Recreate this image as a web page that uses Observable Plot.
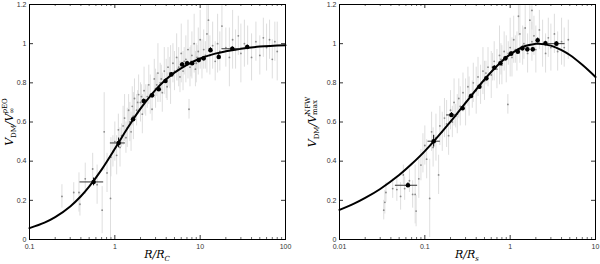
<!DOCTYPE html>
<html><head><meta charset="utf-8">
<script src="https://cdn.jsdelivr.net/npm/d3@7"></script>
<script src="https://cdn.jsdelivr.net/npm/@observablehq/plot@0.6"></script>
<style>
body{margin:0;width:600px;height:264px;position:relative;background:#fff;overflow:hidden}
.panel{position:absolute;top:0}
.lab{position:absolute;font-family:"DejaVu Serif","Liberation Serif",serif;font-style:italic;font-size:11px;white-space:nowrap;color:#000;line-height:1}
.lab sub{font-size:7px;font-style:normal}
.ss{display:inline-flex;flex-direction:column;vertical-align:middle;font-size:7px;line-height:1.05;font-style:normal}
</style></head><body>
<script>
// ---- data ----
const yTicks = [0, 0.2, 0.4, 0.6, 0.8, 1, 1.2];
const leftXTicks = [0.1, 1, 10, 100];
const rightXTicks = [0.01, 0.1, 1, 10];

// model curves
const leftCurveX = [0.1,0.15,0.2,0.3,0.4,0.5,0.7,1,1.2,1.5,2,3,4,5,7,10,15,20,30,50,100];
const leftCurveY = [0.058,0.086,0.114,0.169,0.221,0.270,0.357,0.463,0.520,0.587,0.668,0.764,0.818,0.852,0.892,0.924,0.949,0.961,0.974,0.985,0.992];
const rightCurveX = [0.01,0.015,0.02,0.03,0.05,0.07,0.1,0.2,0.3,0.5,0.7,1,1.5,2,2.16,3,4,5,7,10];
const rightCurveY = [0.151,0.184,0.212,0.258,0.329,0.385,0.451,0.602,0.698,0.817,0.886,0.945,0.988,0.999,1.0,0.990,0.967,0.942,0.892,0.830];

// binned points: x, y, y error, x low, x high
const leftBinX  = [0.564,1.108,1.636,2.18,2.73,3.27,3.92,4.60,6.15,7.03,8.05,9.63,11.0,13.2,16.5,23.8,35.6];
const leftBinY  = [0.294,0.493,0.614,0.707,0.736,0.767,0.809,0.843,0.894,0.900,0.900,0.916,0.925,0.967,0.932,0.974,0.983];
const leftBinE  = [0.02,0.025,0.012,0.01,0.01,0.01,0.01,0.01,0.01,0.01,0.01,0.01,0.01,0.012,0.012,0.01,0.01];
const leftBinLo = [0.39,0.887,1.636,2.18,2.73,3.27,3.92,4.60,6.15,7.03,8.05,9.63,11.0,13.2,16.5,18,35.6];
const leftBinHi = [0.74,1.33,1.636,2.18,2.73,3.27,3.92,4.60,6.15,7.03,8.05,9.63,11.0,13.2,16.5,30,35.6];

const rightBinX  = [0.0634,0.127,0.205,0.277,0.348,0.436,0.526,0.653,0.769,0.879,1.026,1.23,1.39,1.59,1.84,2.10,2.59,3.48];
const rightBinY  = [0.277,0.502,0.636,0.670,0.733,0.780,0.823,0.877,0.900,0.925,0.949,0.959,0.976,0.971,0.971,1.017,1.002,1.000];
const rightBinE  = [0.012,0.03,0.012,0.01,0.01,0.01,0.01,0.01,0.01,0.01,0.01,0.01,0.01,0.01,0.01,0.012,0.01,0.01];
const rightBinLo = [0.0452,0.109,0.18,0.277,0.348,0.436,0.526,0.653,0.769,0.879,1.026,1.23,1.39,1.59,1.84,2.10,2.59,2.8];
const rightBinHi = [0.0823,0.152,0.23,0.277,0.348,0.436,0.526,0.653,0.769,0.879,1.026,1.23,1.39,1.59,1.84,2.10,2.59,4.4];

// individual measurements: [x, y, y error]
const leftScatter = [
[0.24,0.22,0.06],[0.33,0.24,0.05],[0.38,0.24,0.1],[0.39,0.18,0.06],[0.45,0.31,0.08],[0.55,0.36,0.08],
[0.62,0.28,0.1],[0.71,0.15,0.12],[0.75,0.55,0.2],[0.81,0.34,0.1],[0.89,0.21,0.2],[0.9,0.42,0.1],
[0.95,0.45,0.08],[1.0,0.5,0.1],[1.05,0.43,0.1],[1.1,0.56,0.08],[1.15,0.47,0.1],[1.2,0.53,0.06],
[1.25,0.58,0.1],[1.3,0.62,0.12],[1.4,0.57,0.1],[1.45,0.66,0.08],[1.5,0.60,0.1],[1.6,0.68,0.1],
[1.65,0.63,0.12],[1.7,0.72,0.1],[1.8,0.66,0.08],[1.9,0.74,0.1],[2.0,0.70,0.1],[2.1,0.64,0.1],
[2.2,0.76,0.12],[2.3,0.71,0.08],[2.5,0.79,0.1],[2.6,0.74,0.1],[2.73,0.665,0.06],[2.9,0.82,0.1],
[3.0,0.77,0.1],[3.2,0.85,0.15],[3.4,0.80,0.1],[3.6,0.75,0.1],[3.8,0.86,0.12],[4.0,0.82,0.1],
[4.2,0.88,0.1],[4.5,0.84,0.15],[4.8,0.90,0.1],[5.0,0.86,0.1],[5.3,0.93,0.12],[5.6,0.88,0.1],
[6.0,0.95,0.15],[6.3,0.86,0.1],[6.8,0.92,0.12],[7.2,0.97,0.15],[7.4,0.665,0.05],[7.6,0.88,0.1],
[8.0,0.94,0.12],[8.5,1.0,0.15],[9.0,0.90,0.1],[9.5,0.96,0.12],[10,1.02,0.15],[10.5,0.92,0.1],
[11,0.97,0.1],[12,1.05,0.2],[12.5,1.12,0.15],[13,0.94,0.1],[14,0.99,0.12],[15,0.91,0.1],
[16,1.0,0.15],[17,0.96,0.1],[18,1.09,0.12],[20,0.98,0.1],[22,0.93,0.15],[24,1.02,0.15],
[26,0.97,0.1],[28,1.04,0.1],[30,0.95,0.15],[33,1.0,0.12],[36,0.99,0.1],[40,0.93,0.12],
[45,1.01,0.1],[50,0.94,0.1],[55,1.03,0.1],[60,0.98,0.12],[65,1.02,0.1],[70,0.92,0.1],
[75,1.01,0.1],[80,0.96,0.15],[2.4,0.73,0.06],[3.1,0.79,0.06],[3.5,0.82,0.07],[4.4,0.85,0.08],
[5.5,0.87,0.06],[6.5,0.91,0.07],[7.8,0.91,0.08],[9.2,0.93,0.06],[11.5,0.94,0.07],[1.55,0.55,0.1],
[1.35,0.52,0.08],[1.85,0.70,0.06],[2.05,0.73,0.06],[4.1,0.78,0.07],[5.8,0.83,0.08],[8.8,0.87,0.09]
];
const rightScatter = [
[0.033,0.15,0.05],[0.034,0.19,0.06],[0.035,0.24,0.05],[0.042,0.26,0.05],[0.047,0.255,0.06],[0.052,0.22,0.07],
[0.056,0.33,0.05],[0.058,0.26,0.06],[0.066,0.30,0.06],[0.072,0.23,0.07],[0.077,0.23,0.15],[0.079,0.145,0.08],
[0.085,0.31,0.1],[0.09,0.38,0.08],[0.095,0.44,0.1],[0.1,0.48,0.1],[0.105,0.41,0.1],[0.114,0.21,0.2],
[0.12,0.55,0.1],[0.125,0.47,0.1],[0.135,0.52,0.12],[0.145,0.33,0.1],[0.15,0.58,0.1],[0.16,0.55,0.1],
[0.17,0.62,0.1],[0.18,0.59,0.12],[0.19,0.53,0.1],[0.2,0.66,0.1],[0.21,0.6,0.08],[0.22,0.70,0.12],
[0.24,0.64,0.1],[0.25,0.72,0.1],[0.26,0.68,0.1],[0.28,0.75,0.1],[0.3,0.70,0.12],[0.32,0.78,0.1],
[0.33,0.73,0.1],[0.37,0.80,0.1],[0.4,0.76,0.12],[0.42,0.83,0.1],[0.45,0.79,0.1],[0.48,0.86,0.12],
[0.5,0.81,0.1],[0.55,0.88,0.1],[0.6,0.84,0.12],[0.65,0.91,0.1],[0.7,0.87,0.1],[0.75,0.94,0.15],
[0.8,0.89,0.1],[0.85,0.96,0.1],[0.9,0.92,0.12],[0.94,0.69,0.05],[1.0,0.98,0.15],[1.05,0.93,0.1],
[1.1,1.02,0.12],[1.2,0.96,0.1],[1.25,1.14,0.1],[1.3,1.05,0.15],[1.4,0.99,0.1],[1.5,1.08,0.12],
[1.6,0.95,0.1],[1.7,1.12,0.15],[1.8,1.01,0.1],[1.8,1.17,0.1],[1.9,1.04,0.1],[2.0,0.97,0.12],
[2.2,1.07,0.1],[2.4,1.0,0.12],[2.6,0.95,0.1],[2.8,1.03,0.1],[3.0,0.98,0.12],[3.3,1.05,0.1],
[3.6,0.96,0.1],[4.0,1.01,0.12],[4.3,0.98,0.1],[4.8,1.02,0.1],[0.23,0.63,0.06],[0.36,0.74,0.07],
[0.52,0.85,0.06],[0.62,0.88,0.07],[0.78,0.92,0.08],[0.95,0.95,0.06],[1.15,0.97,0.07],[1.45,1.0,0.08]
];

// ---- drawing ----
const font = "Liberation Sans, Arial, Helvetica, sans-serif";
function minorTicks(domain) {
  const out = [];
  for (let d = domain[0]; d < domain[1] * 0.999; d *= 10)
    for (let k = 2; k <= 9; k++) out.push(d * k);
  return out;
}
function panel(cfg) {
  const curve = cfg.curveX.map((x, i) => ({x, y: cfg.curveY[i]}));
  const bins = cfg.binX.map((x, i) => ({x, y: cfg.binY[i], e: cfg.binE[i], lo: cfg.binLo[i], hi: cfg.binHi[i]}));
  const pts = cfg.scatter.map(([x, y, e]) => ({x, y, e}));
  const fw = 300 - cfg.ml - cfg.mr, fh = 264 - 4 - 25;
  const minor = minorTicks(cfg.domain);
  return Plot.plot({
    width: 300, height: 264,
    marginTop: 4, marginBottom: 25, marginLeft: cfg.ml, marginRight: cfg.mr,
    style: {fontFamily: font, background: "transparent"},
    x: {type: "log", domain: cfg.domain},
    y: {domain: [0, 1.2]},
    marks: [
      Plot.ruleX(pts, {x: "x", y1: d => Math.max(0, d.y - d.e), y2: d => Math.min(1.2, d.y + d.e), stroke: "#d6d6d6", strokeWidth: 0.8}),
      Plot.dot(pts, {x: "x", y: "y", r: 0.9, fill: "#8a8a8a", stroke: "none"}),
      Plot.line(curve, {x: "x", y: "y", curve: "catmull-rom", stroke: "#000", strokeWidth: 2}),
      Plot.ruleY(bins.filter(d => d.hi > d.lo), {y: "y", x1: "lo", x2: "hi", stroke: "#333", strokeWidth: 1}),
      Plot.ruleX(bins, {x: "x", y1: d => d.y - d.e, y2: d => d.y + d.e, stroke: "#000", strokeWidth: 1}),
      Plot.dot(bins, {x: "x", y: "y", r: 2.3, fill: "#000", stroke: "none"}),
      // inward ticks on all four sides
      Plot.tickX(cfg.ticks, {x: d => d, insetTop: fh - 4, stroke: "#000", strokeWidth: 0.8}),
      Plot.tickX(cfg.ticks, {x: d => d, insetBottom: fh - 4, stroke: "#000", strokeWidth: 0.8}),
      Plot.tickX(minor, {x: d => d, insetTop: fh - 2, stroke: "#000", strokeWidth: 0.6}),
      Plot.tickX(minor, {x: d => d, insetBottom: fh - 2, stroke: "#000", strokeWidth: 0.6}),
      Plot.tickY(yTicks, {y: d => d, insetRight: fw - 4, stroke: "#000", strokeWidth: 0.8}),
      Plot.tickY(yTicks, {y: d => d, insetLeft: fw - 4, stroke: "#000", strokeWidth: 0.8}),
      Plot.frame({stroke: "#000", strokeWidth: 1}),
      Plot.axisX(cfg.ticks, {anchor: "bottom", tickSize: 0, tickPadding: 5, fontSize: 7, color: "#333", label: null, tickFormat: d => String(d)}),
      Plot.axisY(yTicks, {anchor: "left", tickSize: 0, tickPadding: 3, fontSize: 7, color: "#333", label: null, tickFormat: d => String(d)})
    ]
  });
}

function place(node, left) {
  node.classList.add("panel");
  node.style.left = left + "px";
  document.body.appendChild(node);
}
place(panel({domain: [0.1, 100], ticks: leftXTicks, ml: 29, mr: 15,
  curveX: leftCurveX, curveY: leftCurveY,
  binX: leftBinX, binY: leftBinY, binE: leftBinE, binLo: leftBinLo, binHi: leftBinHi,
  scatter: leftScatter}), 0);
place(panel({domain: [0.01, 10], ticks: rightXTicks, ml: 39, mr: 5,
  curveX: rightCurveX, curveY: rightCurveY,
  binX: rightBinX, binY: rightBinY, binE: rightBinE, binLo: rightBinLo, binHi: rightBinHi,
  scatter: rightScatter}), 300);

function label(html, cx, cy, rot) {
  const d = document.createElement("div");
  d.className = "lab";
  d.innerHTML = html;
  d.style.left = cx + "px";
  d.style.top = cy + "px";
  d.style.transform = "translate(-50%,-50%)" + (rot ? " rotate(-90deg)" : "");
  document.body.appendChild(d);
}
label("R/R<sub><i>C</i></sub>", 157, 256, false);
label("R/R<sub><i>s</i></sub>", 467, 256, false);
label("V<sub>DM</sub>/V<span class='ss'><span><i>p</i>EO</span><span>∞</span></span>", 10, 122, true);
label("V<sub>DM</sub>/V<span class='ss'><span>NFW</span><span>max</span></span>", 313, 122, true);
</script>
</body></html>
